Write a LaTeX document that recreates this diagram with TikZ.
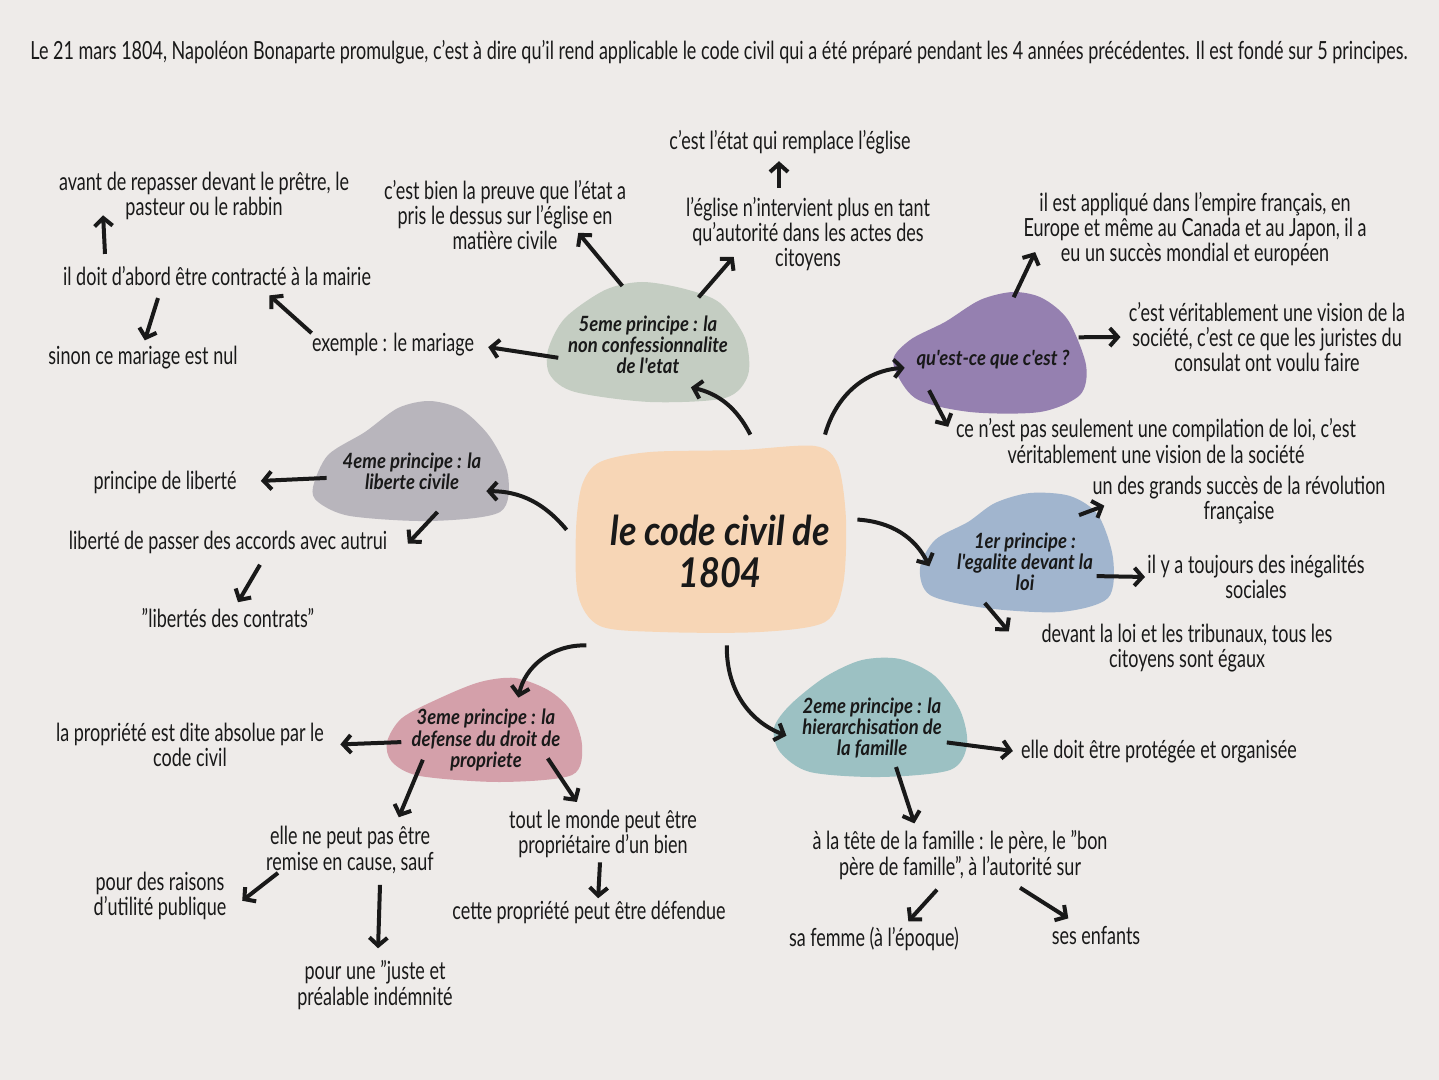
\documentclass[tikz,border=0pt]{standalone}
\usepackage{fontspec}
\setmainfont{Lato}[FakeStretch=0.72]
\newfontfamily\blobfont{Lato}[FakeStretch=0.88]
\usetikzlibrary{arrows.meta, shapes.geometric}
\definecolor{paper}{RGB}{238,235,233}
\definecolor{ink}{RGB}{25,25,25}
\definecolor{peach}{RGB}{247,214,182}
\definecolor{sage}{RGB}{196,205,194}
\definecolor{lilac}{RGB}{149,128,176}
\definecolor{steel}{RGB}{161,181,206}
\definecolor{teal}{RGB}{156,193,195}
\definecolor{rose}{RGB}{212,160,170}
\definecolor{stone}{RGB}{184,181,188}
\tikzset{
  note/.style={font=\fontsize{12.5}{12.6}\selectfont, align=center, inner sep=0pt, text=ink},
  blobtxt/.style={font=\blobfont\bfseries\itshape\fontsize{10.5}{10.6}\selectfont, align=center, inner sep=0pt, text=ink},
  zone/.style={ellipse, inner sep=0pt},
  arr/.style={line width=2pt, draw=ink, -{Straight Barb[length=4pt,width=9pt]}, shorten >=1pt},
}
\begin{document}
\begin{tikzpicture}[x=0.5pt, y=-0.5pt]
  \fill[paper] (0,0) rectangle (1439,1080);
  \useasboundingbox (0,0) rectangle (1439,1080);

  % title
  \node[note, font=\fontsize{12.5}{13}\selectfont] (title) at (719,52) {Le 21 mars 1804, Napoléon Bonaparte promulgue, c'est à dire qu'il rend applicable le code civil qui a été préparé pendant les 4 années précédentes. Il est fondé sur 5 principes.};

  % blobs
  \fill[peach] plot[smooth cycle] coordinates {(600,462) (650,452) (740,450) (815,446) (838,465) (846,520) (843,585) (825,622) (760,632) (660,632) (600,626) (578,595) (576,530) (582,485)};
  \fill[sage] plot[smooth cycle] coordinates {(548,350) (565,318) (605,290) (642,282) (685,289) (720,303) (745,338) (748,375) (725,398) (650,402) (575,392) (550,375)};
  \fill[lilac] plot[smooth cycle] coordinates {(893,362) (910,340) (945,322) (980,300) (1013,292) (1042,298) (1068,320) (1086,365) (1080,395) (1040,412) (970,412) (915,398)};
  \fill[steel] plot[smooth cycle] coordinates {(920,568) (935,540) (968,522) (995,503) (1030,493) (1070,496) (1098,515) (1113,558) (1108,598) (1060,612) (985,608) (930,595)};
  \fill[teal] plot[smooth cycle] coordinates {(774,728) (790,705) (825,677) (862,660) (900,659) (935,676) (960,710) (967,745) (950,770) (880,777) (810,772) (780,752)};
  \fill[rose] plot[smooth cycle] coordinates {(387,742) (402,718) (440,698) (480,682) (515,678) (548,690) (570,710) (582,745) (572,775) (500,782) (420,776) (392,762)};
  \fill[stone] plot[smooth cycle] coordinates {(313,487) (328,455) (365,432) (398,408) (430,401) (462,410) (490,437) (508,475) (500,512) (430,521) (350,516) (318,502)};

  % blob zones
  \node[minimum width=145pt, minimum height=105pt, inner sep=0pt] (core) at (712,540) {};
  \node[zone, minimum width=88pt, minimum height=55pt] (p5) at (642,340) {};
  \node[zone, minimum width=89pt, minimum height=55pt] (qu) at (992,351) {};
  \node[zone, minimum width=89pt, minimum height=53pt] (p1) at (1016,553) {};
  \node[zone, minimum width=88pt, minimum height=53pt] (p2) at (870,716) {};
  \node[zone, minimum width=89pt, minimum height=50pt] (p3) at (484,723) {};
  \node[zone, minimum width=89pt, minimum height=54pt] (p4) at (411,460) {};

  % blob labels
  \node[blobtxt, font=\blobfont\bfseries\itshape\fontsize{20.5}{21}\selectfont] (coretxt) at (720,551) {le code civil de\\1804};
  \node[blobtxt] (p5txt) at (648,345) {5eme principe : la\\non confessionnalite\\de l'etat};
  \node[blobtxt] (qutxt) at (993,360) {qu'est-ce que c'est ?};
  \node[blobtxt] (p1txt) at (1025,562) {1er principe :\\l'egalite devant la\\loi};
  \node[blobtxt] (p2txt) at (872,728) {2eme principe : la\\hierarchisation de\\la famille};
  \node[blobtxt] (p3txt) at (486,740) {3eme principe : la\\defense du droit de\\propriete};
  \node[blobtxt] (p4txt) at (412,471) {4eme principe : la\\liberte civile};

  % notes
  \node[note] (etat) at (790,142) {c'est l'état qui remplace l'église};
  \node[note] (eglise) at (808,234) {l'église n'intervient plus en tant\\qu'autorité dans les actes des\\citoyens};
  \node[note] (preuve) at (505,215) {c'est bien la preuve que l'état a\\pris le dessus sur l'église en\\matière civile};
  \node[note] (avant) at (204,196) {avant de repasser devant le prêtre, le\\pasteur ou le rabbin};
  \node[note] (doit) at (217,276) {il doit d'abord être contracté à la mairie};
  \node[note] (sinon) at (143,358) {sinon ce mariage est nul};
  \node[note] (exemple) at (393,345) {exemple : le mariage};
  \node[note] (princ) at (165,482) {principe de liberté};
  \node[note] (accords) at (228,542) {liberté de passer des accords avec autrui};
  \node[note] (contrats) at (228,618) {"libertés des contrats"};
  \node[note] (applique) at (1195,229) {il est appliqué dans l'empire français, en\\Europe et même au Canada et au Japon, il a\\eu un succès mondial et européen};
  \node[note] (visionsoc) at (1267,337) {c'est véritablement une vision de la\\société, c'est ce que les juristes du\\consulat ont voulu faire};
  \node[note] (compil) at (1156,441) {ce n'est pas seulement une compilation de loi, c'est\\véritablement une vision de la société};
  \node[note] (succes) at (1239,500) {un des grands succès de la révolution\\française};
  \node[note] (inegal) at (1256,577) {il y a toujours des inégalités\\sociales};
  \node[note] (devant) at (1187,648) {devant la loi et les tribunaux, tous les\\citoyens sont égaux};
  \node[note] (protegee) at (1159,752) {elle doit être protégée et organisée};
  \node[note] (tete) at (960,855) {à la tête de la famille : le père, le "bon\\père de famille", à l'autorité sur};
  \node[note] (femme) at (874,939) {sa femme (à l'époque)};
  \node[note] (enfants) at (1096,936) {ses enfants};
  \node[note] (absolue) at (190,745) {la propriété est dite absolue par le\\code civil};
  \node[note] (remise) at (350,850) {elle ne peut pas être\\remise en cause, sauf};
  \node[note] (raisons) at (160,896) {pour des raisons\\d'utilité publique};
  \node[note] (juste) at (375,985) {pour une "juste et\\préalable indémnité};
  \node[note] (monde) at (603,834) {tout le monde peut être\\propriétaire d'un bien};
  \node[note] (defendue) at (589,912) {cette propriété peut être défendue};

  % 5eme principe
  \draw[arr] (core.70) to[bend right=25] (p5.-45);
  \draw[arr] (p5.110) -- ([shift={(72,-19)}]preuve.south);
  \draw[arr] (p5.37) -- ([shift={(-73,-16)}]eglise.south);
  \draw[arr] ([shift={(-29,-9)}]eglise.north) -- ([shift={(-11,5)}]etat.south);
  \draw[arr, shorten >=7pt] (p5.192) -- (exemple.east);
  \draw[arr] (exemple.north west) -- ([shift={(51,8)}]doit.south);
  \draw[arr] ([shift={(-112,-12)}]doit.north) -- ([shift={(-101,-7)}]avant.south);
  \draw[arr, shorten >=3pt] ([shift={(-59,12)}]doit.south) -- (sinon.north);

  % qu'est-ce que c'est
  \draw[arr] (core.43) to[bend left=35] (qu.191);
  \draw[arr, shorten >=4pt] (qu.9) -- (visionsoc.west);
  \draw[arr] (qu.68) -- ([shift={(-159,-16)}]applique.south);
  \draw[arr, shorten >=8pt] (qu.212) -- (compil.west);

  % 4eme principe
  \draw[arr] (core.176) to[bend right=25] (p4.-23);
  \draw[arr, shorten >=12pt] (p4.192) -- (princ.east);
  \draw[arr] (p4.-63) -- ([shift={(19,3)}]accords.east);
  \draw[arr] ([shift={(32,11)}]accords.south) -- ([shift={(9,-4)}]contrats.north);

  % 1er principe
  \draw[arr] (core.8) to[bend left=30] (p1.190);
  \draw[arr] (p1.31) -- ([shift={(14,5)}]succes.west);
  \draw[arr] (p1.-16) -- (inegal.west);
  \draw[arr] (p1.-122) -- ([shift={(-31,-15)}]devant.west);

  % 2eme principe
  \draw[arr] (core.-82) to[bend right=35] (p2.194);
  \draw[arr, shorten >=4pt] (p2.-19) -- (protegee.west);
  \draw[arr] (p2.-63) -- ([shift={(-45,-5)}]tete.north);
  \draw[arr] ([shift={(-23,10)}]tete.south) -- ([shift={(33,-4)}]femme.north);
  \draw[arr] ([shift={(60,8)}]tete.south) -- ([shift={(-26,-7)}]enfants.north);

  % 3eme principe
  \draw[arr] (core.-140) to[bend right=40] ([shift={(34,27)}]p3.north);
  \draw[arr, shorten >=8pt] (p3.193) -- (absolue.east);
  \draw[arr] (p3.211) -- ([shift={(48,-7)}]remise.north);
  \draw[arr] (p3.-29) -- ([shift={(-25,-6)}]monde.north);
  \draw[arr] ([shift={(-3,4)}]monde.south) -- ([shift={(9,0)}]defendue.north);
  \draw[arr] ([shift={(-72,-1)}]remise.south) -- ([shift={(14,6)}]raisons.east);
  \draw[arr] ([shift={(30,11)}]remise.south) -- ([shift={(3,-10)}]juste.north);
\end{tikzpicture}
\end{document}
